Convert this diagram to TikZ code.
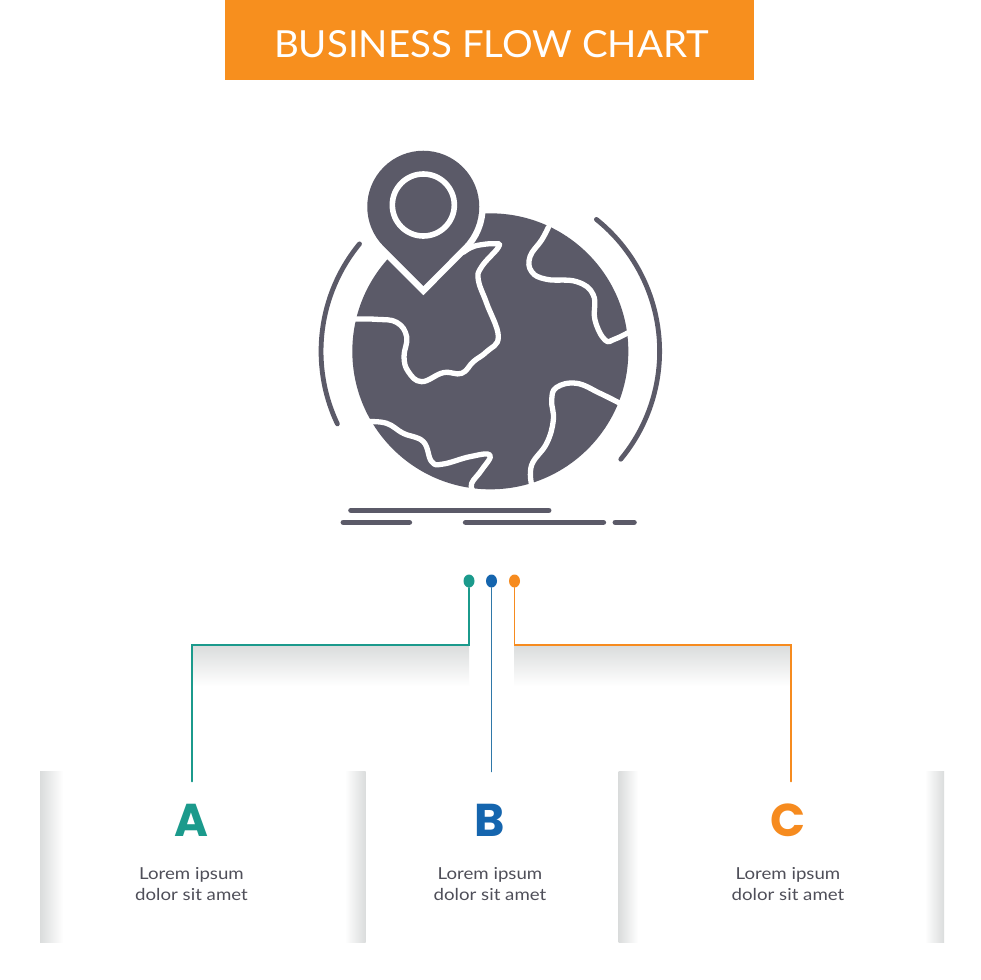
\documentclass[tikz,border=0pt]{standalone}
\usepackage{fontspec}
\usetikzlibrary{shapes.geometric}
\setmainfont{Lato}
\newfontfamily\heavyfont{Poppins}[BoldFont={Poppins Bold}]
\newfontfamily\bodyfont{Lato}[FakeStretch=1.13]
\newfontfamily\titlefont{Lato}[FakeStretch=1.03]
\definecolor{bannerorange}{HTML}{F78F1E}
\definecolor{tealc}{HTML}{1B9A8C}
\definecolor{bluec}{HTML}{1565AE}
\definecolor{bluel}{HTML}{2F78A8}
\definecolor{orangec}{HTML}{F68B1F}
\definecolor{iconc}{HTML}{5B5A68}
\definecolor{textc}{HTML}{4F4F59}
\definecolor{shadec}{HTML}{DADCDC}
\definecolor{shadem}{HTML}{F3F4F4}
\tikzset{
  dotnode/.style={ellipse,inner sep=0pt,minimum width=11pt,minimum height=13pt},
  conn/.style={line width=1.6pt,line cap=round},
  letternode/.style={font=\heavyfont\bfseries\fontsize{46}{46}\selectfont},
  bodynode/.style={font=\bodyfont\fontsize{16.5}{20.5}\selectfont,text=textc,align=center},
  coast/.style={draw=white,line width=5.3pt,line cap=round,line join=round},
  halfring/.style={draw=iconc,line width=4.8pt,line cap=round},
  groundline/.style={draw=iconc,line width=5.6pt,line cap=round}
}
\begin{document}
\begin{tikzpicture}[x=1pt,y=-1pt]
\useasboundingbox (0,0) rectangle (980,980);
\fill[white] (0,0) rectangle (980,980);
% banner
\node[fill=bannerorange,minimum width=529pt,minimum height=80pt,inner sep=0pt,anchor=north west] (banner) at (225,0) {};
\node[text=white,font=\titlefont\fontsize{37.3}{40}\selectfont,anchor=center] (title) at (491.5,44.5) {BUSINESS FLOW CHART};
% icon
\begin{scope}[shift={(300,140)},x=0.33333pt,y=-0.33333pt]
  \coordinate (g) at (571,634);
  \fill[iconc] (g) circle[radius=138pt];
  \draw[coast] plot[smooth,tension=0.7] coordinates {(490,337) (525,318) (585,311) (595,322) (545,380) (535,420) (560,490) (595,590) (560,635) (520,665) (485,700) (430,698) (365,725) (325,695) (312,650) (320,590) (290,547) (230,538) (160,537)};
  \draw[coast] plot[smooth,tension=0.7] coordinates {(745,262) (725,300) (690,350) (695,395) (740,418) (830,425) (880,465) (885,540) (915,600) (945,597) (990,575)};
  \draw[coast] plot[smooth,tension=0.7] coordinates {(960,790) (900,760) (830,730) (770,742) (755,780) (760,840) (740,910) (695,975) (695,1035)};
  \draw[coast] plot[smooth,tension=0.7] coordinates {(205,845) (260,850) (310,880) (370,905) (395,965) (430,972) (510,950) (570,945) (545,990) (515,1030) (520,1055)};
  % pin
  \draw[white,line width=13pt,miter limit=10] (370,438) -- (251,319) arc[start angle=225,end angle=-45,radius=56pt] -- cycle;
  \fill[iconc] (370,438) -- (251,319) arc[start angle=225,end angle=-45,radius=56pt] -- cycle;
  \draw[white,line width=5.6pt] (370,195) circle[radius=31pt];
  % side arcs
  \draw[halfring] ([shift={(140.6:169.3pt)}]g) arc[start angle=140.6,end angle=205.4,radius=169.3pt];
  \draw[halfring] ([shift={(51.2:169.3pt)}]g) arc[start angle=51.2,end angle=-39.6,radius=169.3pt];
  % ground
  \draw[groundline] (153,1111) -- (746,1111);
  \draw[groundline] (130,1147) -- (328,1147);
  \draw[groundline] (497,1147) -- (910,1147);
  \draw[groundline] (946,1147) -- (1002,1147);
\end{scope}
% soft shadows
\shade[top color=shadec,middle color=shadem,bottom color=white] (192,645) rectangle (469,686);
\shade[top color=shadec,middle color=shadem,bottom color=white] (514.5,645) rectangle (791,686);
\shade[left color=shadec,middle color=shadem,right color=white] (40,771.5) rectangle (63,942);
\shade[left color=white,middle color=shadem,right color=shadec] (345,771.5) rectangle (365.5,942);
\shade[left color=shadec,middle color=shadem,right color=white] (618.5,771.5) rectangle (638,942);
\shade[left color=white,middle color=shadem,right color=shadec] (925,771.5) rectangle (944,942);
% dots
\node[dotnode,fill=tealc] (dotA) at (469,581) {};
\node[dotnode,fill=bluec] (dotB) at (491.5,581) {};
\node[dotnode,fill=orangec] (dotC) at (514.5,581) {};
% connector points
\coordinate (kneeA) at (469,645);
\coordinate (turnA) at (192,645);
\coordinate (endA) at (192,781.5);
\coordinate (midB) at (491.5,680);
\coordinate (endB) at (491.5,771.5);
\coordinate (kneeC) at (514.5,645);
\coordinate (turnC) at (791,645);
\coordinate (endC) at (791,781.5);
\draw[conn,tealc] (dotA) -- (kneeA) -- (turnA) -- (endA);
\draw[conn,bluel] (dotB) -- (midB) -- (endB);
\draw[conn,orangec] (dotC) -- (kneeC) -- (turnC) -- (endC);
% letters
\node[letternode,text=tealc] (letterA) at (191.5,820) {A};
\node[letternode,text=bluec] (letterB) at (490,820) {B};
\node[letternode,text=orangec] (letterC) at (788,820) {C};
% text
\node[bodynode] (textA) at (191.5,884) {Lorem ipsum\\dolor sit amet};
\node[bodynode] (textB) at (490,884) {Lorem ipsum\\dolor sit amet};
\node[bodynode] (textC) at (788,884) {Lorem ipsum\\dolor sit amet};
\end{tikzpicture}
\end{document}
